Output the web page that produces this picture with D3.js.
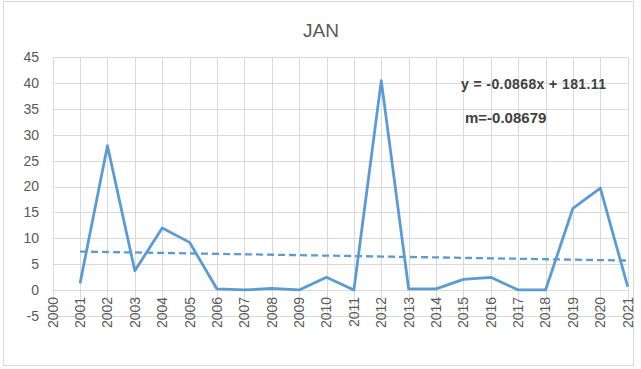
<!DOCTYPE html>
<html>
<head>
<meta charset="utf-8">
<script src="https://cdn.jsdelivr.net/npm/d3@7"></script>
<style>
  body { margin: 0; background: #fff; }
  svg text { font-family: "Liberation Sans", Arial, sans-serif; fill: #595959; }
</style>
</head>
<body>
<div id="chart"></div>
<script>
const years = [2001, 2002, 2003, 2004, 2005, 2006, 2007, 2008, 2009, 2010, 2011,
               2012, 2013, 2014, 2015, 2016, 2017, 2018, 2019, 2020, 2021];
const values = [1.3, 27.9, 3.7, 12.0, 9.2, 0.2, 0.0, 0.3, 0.0, 2.45, 0.0,
                40.5, 0.2, 0.2, 2.05, 2.45, 0.0, 0.0, 15.8, 19.7, 0.65];
const yTicks = [-5, 0, 5, 10, 15, 20, 25, 30, 35, 40, 45];
const xTicks = d3.range(2000, 2022);
const trendSlope = -0.0868;
const trendIntercept = 181.11;
const equationLabel = "y = -0.0868x + 181.11";
const slopeLabel = "m=-0.08679";
const title = "JAN";

const width = 641, height = 369;
const svg = d3.select("#chart").append("svg")
    .attr("width", width)
    .attr("height", height);

// chart frame
svg.append("rect")
    .attr("x", 3.5).attr("y", 1.5)
    .attr("width", 630).attr("height", 364)
    .attr("fill", "#fff")
    .attr("stroke", "#d9d9d9");

const x = d3.scaleLinear().domain([2000, 2021]).range([52.7, 627.7]);
const y = d3.scaleLinear().domain([-5, 45]).range([315.8, 57.3]);

// gridlines
svg.append("g").selectAll("line.h")
    .data(yTicks).join("line")
    .attr("x1", x(2000)).attr("x2", x(2021))
    .attr("y1", d => Math.round(y(d)) + 0.5).attr("y2", d => Math.round(y(d)) + 0.5)
    .attr("stroke", "#d9d9d9");

svg.append("g").selectAll("line.v")
    .data(xTicks).join("line")
    .attr("x1", d => Math.round(x(d)) + 0.5).attr("x2", d => Math.round(x(d)) + 0.5)
    .attr("y1", y(45)).attr("y2", y(-5))
    .attr("stroke", "#d9d9d9");

// y axis labels
svg.append("g").selectAll("text")
    .data(yTicks).join("text")
    .attr("x", 39)
    .attr("y", d => y(d))
    .attr("dy", "0.35em")
    .attr("text-anchor", "end")
    .attr("font-size", 14)
    .text(d => d);

// x axis labels (rotated, hanging below the zero line)
svg.append("g").selectAll("text")
    .data(xTicks).join("text")
    .attr("transform", d => `translate(${x(d)},${y(0) + 7}) rotate(-90)`)
    .attr("dy", "0.35em")
    .attr("text-anchor", "end")
    .attr("font-size", 14)
    .text(d => d);

// trendline
const trend = d3.line()
    .x(d => x(d))
    .y(d => y(trendSlope * d + trendIntercept));
svg.append("path")
    .attr("d", trend([years[0], years[years.length - 1]]))
    .attr("fill", "none")
    .attr("stroke", "#5B9BD5")
    .attr("stroke-width", 2.3)
    .attr("stroke-dasharray", "7,4");

// data line
const line = d3.line()
    .x((d, i) => x(years[i]))
    .y(d => y(d));
svg.append("path")
    .attr("d", line(values))
    .attr("fill", "none")
    .attr("stroke", "#5B9BD5")
    .attr("stroke-width", 2.8)
    .attr("stroke-linejoin", "round");

// title
svg.append("text")
    .attr("x", 321).attr("y", 37)
    .attr("text-anchor", "middle")
    .attr("font-size", 19)
    .text(title);

// equation labels
svg.append("text")
    .attr("x", 461).attr("y", 89)
    .attr("font-size", 14)
    .attr("font-weight", "bold")
    .attr("letter-spacing", 0.4)
    .style("fill", "#404040")
    .text(equationLabel);

svg.append("text")
    .attr("x", 465).attr("y", 123)
    .attr("font-size", 15)
    .attr("font-weight", "bold")
    .style("fill", "#404040")
    .text(slopeLabel);
</script>
</body>
</html>
